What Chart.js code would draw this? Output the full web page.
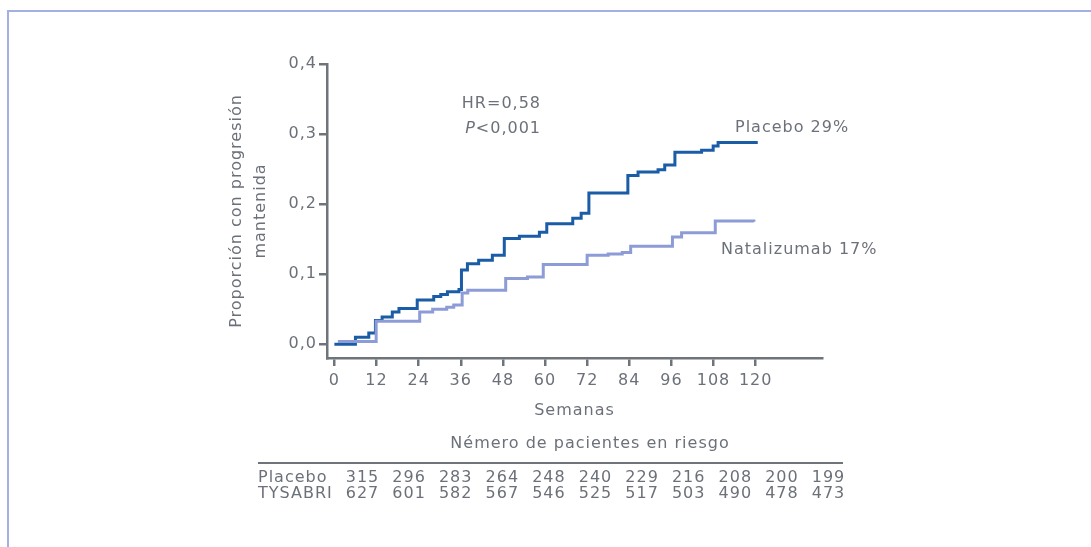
<!DOCTYPE html>
<html>
<head>
<meta charset="utf-8">
<script src="https://cdn.jsdelivr.net/npm/chart.js@4.4.1/dist/chart.umd.min.js"></script>
<style>
  html, body { margin: 0; padding: 0; background: #fff; overflow: hidden; }
  #wrap { position: relative; width: 1091px; height: 547px; }
  #marco { position: absolute; left: 7px; top: 10px; width: 1200px; height: 700px;
           border-top: 2px solid #a4b0e0; border-left: 2px solid #a4b0e0; }
  canvas { position: absolute; left: 0; top: 0; }
</style>
</head>
<body>
<div id="wrap">
  <div id="marco"></div>
  <canvas id="kmChart" width="1091" height="547"></canvas>
</div>
<script>
// Curvas Kaplan-Meier (semana del evento -> proporcion acumulada)
const placeboWeeks  = [0, 6, 9.8, 11.7, 13.6, 16.5, 18.4, 23.6, 28.3, 30.3, 32.2, 35.5, 36.2, 37.9, 41.1, 45, 48.4, 52.7, 58.4, 60.5, 67.9, 70.3, 72.5, 83.6, 86.5, 92.2, 94.1, 97, 104.6, 107.9, 109.3, 120.6];
const placeboValues = [0, 0.010, 0.016, 0.034, 0.039, 0.046, 0.051, 0.063, 0.068, 0.071, 0.075, 0.078, 0.106, 0.115, 0.120, 0.127, 0.151, 0.154, 0.160, 0.172, 0.180, 0.187, 0.216, 0.241, 0.246, 0.249, 0.256, 0.274, 0.277, 0.283, 0.288, 0.288];

const natalizumabWeeks  = [1, 11.9, 24.3, 28, 32, 34, 36.4, 38, 48.8, 55, 59.5, 72, 78, 82, 84.4, 96.3, 98.9, 108.5, 119.5];
const natalizumabValues = [0.004, 0.033, 0.046, 0.050, 0.053, 0.056, 0.073, 0.077, 0.094, 0.096, 0.114, 0.127, 0.129, 0.131, 0.140, 0.153, 0.159, 0.176, 0.175];

const xTickValues = [0, 12, 24, 36, 48, 60, 72, 84, 96, 108, 120];
const yTickValues = [0, 0.1, 0.2, 0.3, 0.4];

// Numero de pacientes en riesgo
const riskRowLabels  = ['Placebo', 'TYSABRI'];
const placeboAtRisk  = [315, 296, 283, 264, 248, 240, 229, 216, 208, 200, 199];
const tysabriAtRisk  = [627, 601, 582, 567, 546, 525, 517, 503, 490, 478, 473];

const GRIS = '#6c7179';
const EJE = '#6f747a';
const AZUL = '#1b5ca6';
const LILA = '#8d9cd6';
const FUENTE = '"DejaVu Sans", sans-serif';

Chart.defaults.font.family = FUENTE;
Chart.defaults.font.size = 16;
Chart.defaults.color = GRIS;

function puntos(weeks, values) {
    return weeks.map((w, i) => ({ x: w, y: values[i] }));
}

// el tipo de letra original es mas ancho: un poco de espaciado
const espaciado = {
    id: 'espaciado',
    beforeUpdate(chart) { chart.ctx.letterSpacing = '1px'; },
    beforeDraw(chart) { chart.ctx.letterSpacing = '1px'; }
};

const textos = {
    id: 'textos',
    afterDraw(chart) {
        const ctx = chart.ctx;
        ctx.save();
        ctx.letterSpacing = '1px';
        ctx.fillStyle = GRIS;
        ctx.textBaseline = 'middle';

        // HR y valor P
        ctx.font = '16px ' + FUENTE;
        ctx.textAlign = 'right';
        ctx.fillText('HR=0,58', 541, 104);
        const resto = '<0,001';
        ctx.fillText(resto, 541, 129);
        const w = ctx.measureText(resto).width;
        ctx.font = 'italic 16px ' + FUENTE;
        ctx.fillText('P', 541 - w, 129);

        // etiquetas de las curvas
        ctx.font = '16px ' + FUENTE;
        ctx.textAlign = 'left';
        ctx.fillText('Placebo 29%', 735, 128);
        ctx.fillText('Natalizumab 17%', 721, 250);

        // tabla de pacientes en riesgo
        ctx.textAlign = 'center';
        ctx.fillText('Némero de pacientes en riesgo', 590, 444);

        ctx.strokeStyle = EJE;
        ctx.lineWidth = 2;
        ctx.beginPath();
        ctx.moveTo(258, 463);
        ctx.lineTo(843, 463);
        ctx.stroke();

        const filas = [placeboAtRisk, tysabriAtRisk];
        const filaY = [478, 494];
        filas.forEach((fila, r) => {
            ctx.textAlign = 'left';
            ctx.fillText(riskRowLabels[r], 258, filaY[r]);
            ctx.textAlign = 'center';
            fila.forEach((n, i) => {
                ctx.fillText(String(n), 362.5 + i * 46.6, filaY[r]);
            });
        });
        ctx.restore();
    }
};

const ctx = document.getElementById('kmChart');
new Chart(ctx.getContext('2d'), {
    type: 'line',
    data: {
        datasets: [
            {
                label: 'Natalizumab',
                data: puntos(natalizumabWeeks, natalizumabValues),
                borderColor: LILA,
                borderWidth: 3,
                stepped: true,
                pointRadius: 0,
                fill: false
            },
            {
                label: 'Placebo',
                data: puntos(placeboWeeks, placeboValues),
                borderColor: AZUL,
                borderWidth: 3,
                stepped: true,
                pointRadius: 0,
                fill: false
            }
        ]
    },
    options: {
        responsive: false,
        animation: false,
        layout: {
            padding: { left: 220, top: 64, right: 269, bottom: 124 }
        },
        scales: {
            x: {
                type: 'linear',
                min: -2.1,
                max: 138.9,
                afterBuildTicks: s => { s.ticks = xTickValues.map(v => ({ value: v })); },
                afterFit: s => { s.height = 65; },
                ticks: {
                    autoSkip: false,
                    maxRotation: 0,
                    padding: 5,
                    color: GRIS,
                    callback: v => String(v)
                },
                grid: {
                    drawOnChartArea: false,
                    drawTicks: true,
                    tickLength: 8,
                    color: EJE,
                    lineWidth: 2.5
                },
                border: { display: true, color: EJE, width: 2.5 },
                title: {
                    display: true,
                    text: 'Semanas',
                    color: GRIS,
                    padding: { top: 0, bottom: 3 }
                }
            },
            y: {
                min: -0.0196,
                max: 0.4,
                afterBuildTicks: s => { s.ticks = yTickValues.map(v => ({ value: v })); },
                afterFit: s => { s.width = 107; },
                ticks: {
                    padding: 2,
                    color: GRIS,
                    callback: v => v.toFixed(1).replace('.', ',')
                },
                grid: {
                    drawOnChartArea: false,
                    drawTicks: true,
                    tickLength: 8,
                    color: EJE,
                    lineWidth: 2.5
                },
                border: { display: true, color: EJE, width: 2.5 },
                title: {
                    display: true,
                    text: ['Proporción con progresión', 'mantenida'],
                    color: GRIS,
                    font: { size: 16, lineHeight: 1.5 },
                    padding: { top: 5, bottom: 0 }
                }
            }
        },
        plugins: {
            legend: { display: false },
            tooltip: { enabled: false }
        }
    },
    plugins: [espaciado, textos]
});
</script>
</body>
</html>
